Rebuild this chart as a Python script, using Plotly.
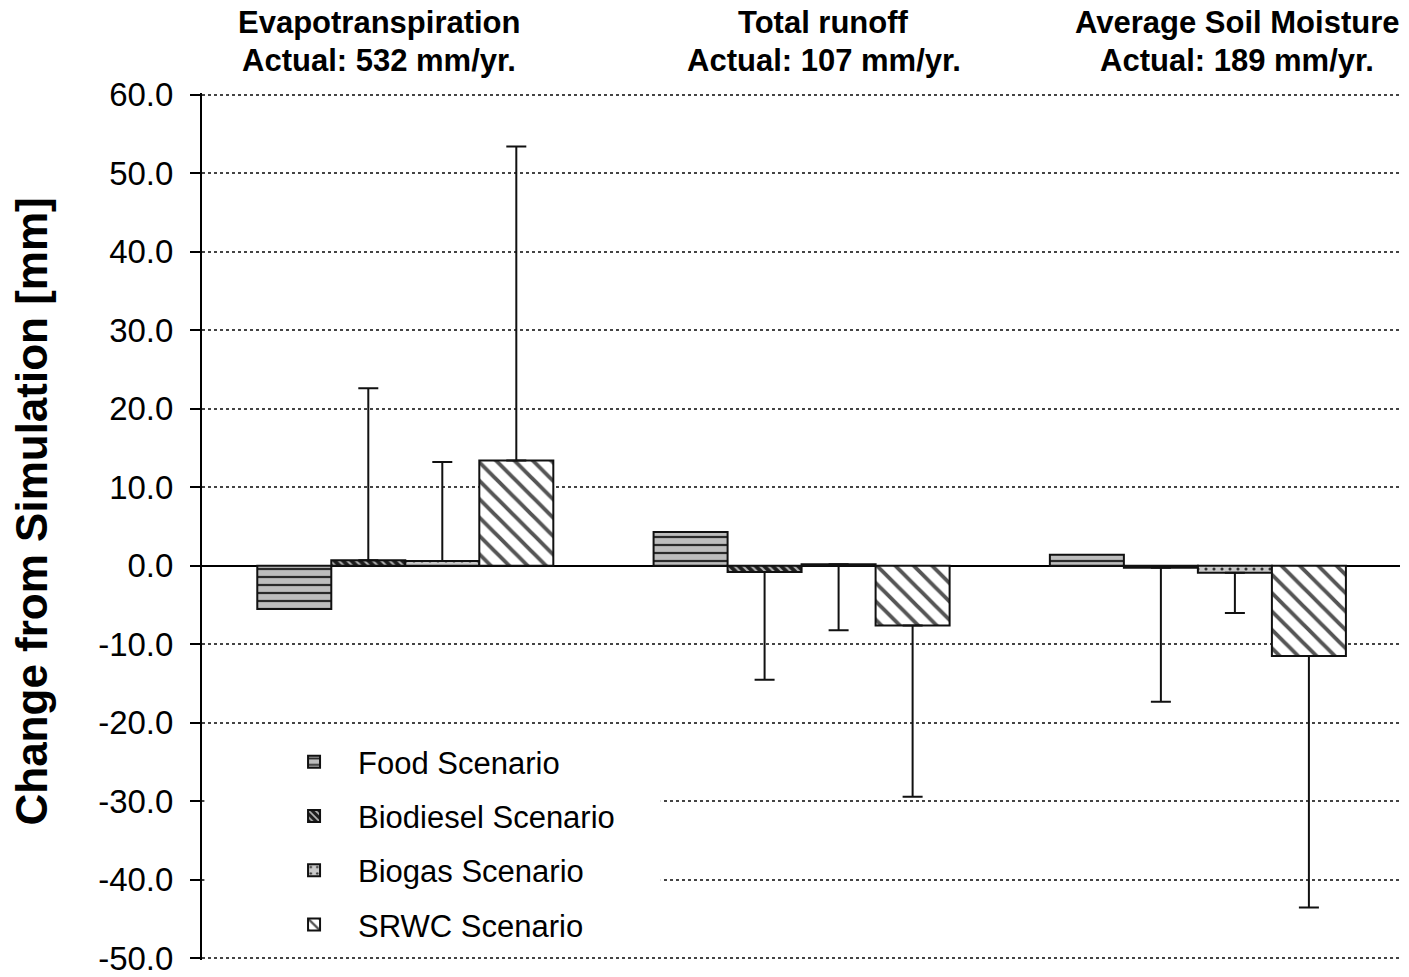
import plotly.graph_objects as go

categories = ["Evapotranspiration", "Total runoff", "Average Soil Moisture"]
header_line1 = ["Evapotranspiration", "Total runoff", "Average Soil Moisture"]
header_line2 = ["Actual: 532 mm/yr.", "Actual: 107 mm/yr.", "Actual: 189 mm/yr."]
series_names = ["Food Scenario", "Biodiesel Scenario", "Biogas Scenario", "SRWC Scenario"]
tick_values = [-50, -40, -30, -20, -10, 0, 10, 20, 30, 40, 50, 60]
tick_labels = ["-50.0", "-40.0", "-30.0", "-20.0", "-10.0", "0.0",
               "10.0", "20.0", "30.0", "40.0", "50.0", "60.0"]

food = [-5.5, 4.3, 1.4]
biodiesel = [0.7, -0.8, -0.25]
biogas = [0.6, 0.2, -0.9]
srwc = [13.4, -7.6, -11.5]

# end values of the one-sided error bars (None = no error bar)
food_err_end = [None, None, None]
biodiesel_err_end = [22.6, -14.5, -17.3]
biogas_err_end = [13.2, -8.2, -6.0]
srwc_err_end = [53.4, -29.4, -43.5]

FONT = "Arial, Liberation Sans, sans-serif"

styles = [
    dict(bg="#bdbdbd", fg="#2a2a2a", shape="-", size=8, sol=0.28),
    dict(bg="#1e1e1e", fg="#b5b5b5", shape="\\", size=6, sol=0.35),
    dict(bg="#c9c9c9", fg="#333333", shape=".", size=8, sol=0.12),
    dict(bg="#ffffff", fg="#555555", shape="\\", size=13, sol=0.3),
]

values = [food, biodiesel, biogas, srwc]
err_ends = [food_err_end, biodiesel_err_end, biogas_err_end, srwc_err_end]

fig = go.Figure()
for i, (name, vals, ends, st) in enumerate(zip(series_names, values, err_ends, styles)):
    plus, minus = [], []
    has_err = any(e is not None for e in ends)
    for v, e in zip(vals, ends):
        if e is None:
            plus.append(0); minus.append(0)
        elif e >= v:
            plus.append(e - v); minus.append(0)
        else:
            plus.append(0); minus.append(v - e)
    fig.add_trace(go.Bar(
        name=name, x=categories, y=vals,
        legendgroup=f"g{i}",
        marker=dict(color=st["bg"], line=dict(color="#111111", width=2),
                    pattern=dict(shape=st["shape"], fgcolor=st["fg"], bgcolor=st["bg"],
                                 size=st["size"], solidity=st["sol"], fillmode="replace")),
        error_y=dict(type="data", symmetric=False, array=plus, arrayminus=minus,
                     color="#111111", thickness=2, width=10, visible=has_err),
    ))

# white panel behind the legend (covers gridlines there)
fig.add_shape(type="rect", xref="paper", yref="y", x0=0.002, x1=0.383, y0=-48.6, y1=-21.3,
              fillcolor="white", line=dict(width=0), layer="above")

annotation_shifts = [-26, 22, 39]
for cat, l1, l2, sh in zip(categories, header_line1, header_line2, annotation_shifts):
    fig.add_annotation(x=cat, xref="x", y=1, yref="paper", yanchor="middle", xanchor="center",
                       text=f"<b>{l1}</b>", showarrow=False, xshift=sh, yshift=71,
                       font=dict(family=FONT, size=31, color="black"))
    fig.add_annotation(x=cat, xref="x", y=1, yref="paper", yanchor="middle", xanchor="center",
                       text=f"<b>{l2}</b>", showarrow=False, xshift=sh, yshift=33,
                       font=dict(family=FONT, size=31, color="black"))

fig.add_annotation(x=0, xref="paper", y=0.5, yref="paper", xanchor="center", yanchor="middle",
                   xshift=-171, yshift=15, textangle=-90, showarrow=False,
                   text="<b>Change from Simulation [mm]</b>",
                   font=dict(family=FONT, size=44, color="black"))

fig.update_layout(
    width=1409, height=977,
    margin=dict(l=202, r=9, t=93, b=17, autoexpand=False),
    plot_bgcolor="white", paper_bgcolor="white",
    barmode="group", bargap=0.253, bargroupgap=0,
    font=dict(family=FONT, color="black"),
    legend=dict(x=0.0568, y=0.2595, xanchor="left", yanchor="top", bgcolor="rgba(0,0,0,0)",
                font=dict(family=FONT, size=31, color="black"), tracegroupgap=11,
                itemwidth=78, traceorder="grouped"),
    xaxis=dict(range=[-0.513, 2.51], showticklabels=False, ticks="", showgrid=False,
               zeroline=False, showline=False, automargin=False),
    yaxis=dict(range=[-50.2, 60.2], tickmode="array", tickvals=tick_values, ticktext=tick_labels,
               ticks="outside", ticklen=10, tickwidth=2, tickcolor="black",
               ticklabelstandoff=10, ticklabeloverflow="allow", automargin=False,
               showline=True, linecolor="black", linewidth=2,
               showgrid=True, gridcolor="#444444", griddash="dot", gridwidth=1.5,
               zeroline=True, zerolinecolor="black", zerolinewidth=2,
               tickfont=dict(family=FONT, size=33, color="black")),
)

fig.write_html("out.html")
